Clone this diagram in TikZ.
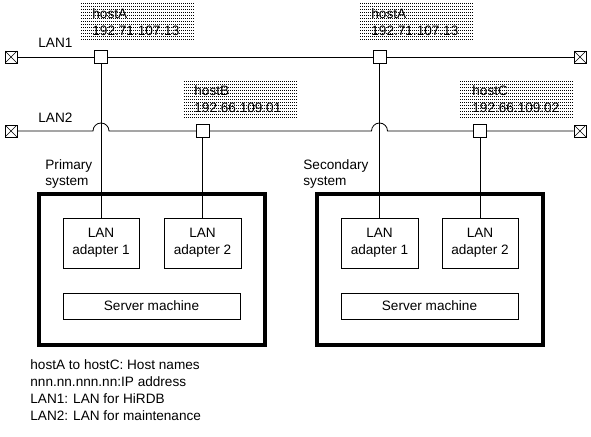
\documentclass[tikz,border=0pt]{standalone}
\usepackage{fontspec}
\setmainfont{Liberation Sans}
\begin{document}
\begin{tikzpicture}[x=1pt,y=-1pt,
  font=\fontsize{13.6}{17}\selectfont,
  line width=0.8pt,
  term/.style={draw, minimum size=12pt, inner sep=0pt, fill=white,
    path picture={\draw[line width=0.6pt] (path picture bounding box.north west)--(path picture bounding box.south east)
      (path picture bounding box.south west)--(path picture bounding box.north east);}},
  tap/.style={draw, fill=white, minimum size=13pt, inner sep=0pt},
  adapter/.style={draw, minimum width=77pt, minimum height=50pt, align=center, inner sep=0pt},
  server/.style={draw, minimum width=177pt, minimum height=26pt, inner sep=0pt},
  sysbox/.style={draw, line width=4pt, minimum width=226pt, minimum height=151pt, inner sep=0pt},
  dotrow/.style={line width=1pt, dash pattern=on 1pt off 1pt, black},
  txt/.style={inner sep=0pt, anchor=west},
  lbl/.style={inner sep=0pt, anchor=west, align=left, font=\fontsize{13.6}{16}\selectfont}]
\useasboundingbox (0,0) rectangle (591,436);

% dotted label backgrounds
\foreach \xa/\xb/\ya in {81/194/4, 360/473/4, 184/298/81, 460/573/81}{
  \foreach \k in {0,...,12}{
    \draw[dotrow] (\xa,\ya+3*\k) -- (\xb,\ya+3*\k);
  }
}
\node[txt] (tA1) at (92,14) {hostA};
\node[txt] (iA1) at (92,31) {192.71.107.13};
\node[txt] (tA2) at (371,14) {hostA};
\node[txt] (iA2) at (371,31) {192.71.107.13};
\node[txt] (tB) at (194,91) {hostB};
\node[txt] (iB) at (194,108) {192.66.109.01};
\node[txt] (tC) at (472,91) {hostC};
\node[txt] (iC) at (472,108) {192.66.109.02};

% LAN labels
\node[txt] (lan1) at (38,43) {LAN1};
\node[txt] (lan2) at (38,118) {LAN2};

% terminals
\node[term] (L1) at (11,57) {};
\node[term] (R1) at (580,57) {};
\node[term] (L2) at (11,131) {};
\node[term] (R2) at (580,131) {};

% system boxes
\node[sysbox] (psys) at (152,269.5) {};
\node[sysbox] (ssys) at (429.5,269.5) {};
\node[lbl] (plbl) at (45,174) {Primary\\system};
\node[lbl] (slbl) at (303,174) {Secondary\\system};

% adapters and servers
\node[adapter, minimum width=76pt] (pa1) at (101,243) {LAN\\adapter 1};
\node[adapter, minimum width=77pt] (pa2) at (202.5,243) {LAN\\adapter 2};
\node[adapter, minimum width=77pt] (sa1) at (379.5,243) {LAN\\adapter 1};
\node[adapter, minimum width=76pt] (sa2) at (480,243) {LAN\\adapter 2};
\node[server] (psrv) at (151.5,306) {Server machine};
\node[server] (ssrv) at (429.5,306) {Server machine};

% hop points on LAN2
\coordinate (h1) at (101,131);
\coordinate (h2) at (379.5,131);

% LAN1
\draw (L1.east) -- (R1.west);
% LAN2 with hops
\draw (L2.east) -- ([xshift=-8pt]h1) arc[start angle=180, end angle=0, radius=8pt] -- ([xshift=-8pt]h2)
      arc[start angle=180, end angle=0, radius=8pt] -- (R2.west);

% taps
\node[tap] (pA) at (101,57) {};
\node[tap] (sA) at (379.5,57) {};
\node[tap] (pB) at (202.5,131) {};
\node[tap] (sC) at (480,131) {};

% drops
\draw (pA.south) -- (pa1.north);
\draw (sA.south) -- (sa1.north);
\draw (pB.south) -- (pa2.north);
\draw (sC.south) -- (sa2.north);

% legend
\node[txt] (lg1) at (30,365) {hostA to hostC: Host names};
\node[txt] (lg2) at (30,382) {nnn.nn.nnn.nn:IP address};
\node[txt] (lg3) at (30,399) {LAN1: LAN for HiRDB};
\node[txt] (lg4) at (30,416) {LAN2: LAN for maintenance};
\end{tikzpicture}
\end{document}
